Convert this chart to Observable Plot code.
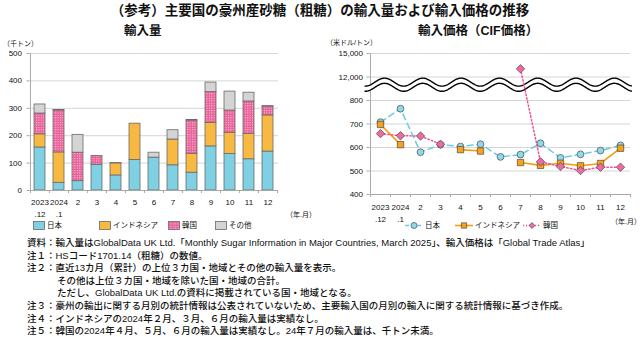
<!DOCTYPE html>
<html><head><meta charset="utf-8">
<script src="https://cdn.jsdelivr.net/npm/d3@7"></script>
<script src="https://cdn.jsdelivr.net/npm/@observablehq/plot@0.6"></script>
<style>
body{margin:0;background:#fff;font-family:'Liberation Sans','Noto Sans CJK JP',sans-serif;color:#111;}
#wrap{position:relative;width:640px;height:337px;overflow:hidden;}
.abs{position:absolute;white-space:nowrap;line-height:1;}
#title{left:0;width:640px;text-align:center;top:4px;font-size:13.5px;font-weight:bold;}
.sub{font-size:12.5px;font-weight:bold;top:25px;}
.unit{font-size:7px;}
.lg{font-size:7.5px;display:flex;align-items:center;}
.lg svg{margin-right:2px;}
#notes{left:27px;top:237px;font-size:9.5px;line-height:12.6px;font-weight:500;}
#notes div{white-space:nowrap;}
.ind{padding-left:30px;}
svg text{font-family:'Liberation Sans','Noto Sans CJK JP',sans-serif;}
</style></head>
<body><div id="wrap">
<div id="title" class="abs">（参考）主要国の豪州産砂糖（粗糖）の輸入量および輸入価格の推移</div>
<div class="abs sub" style="left:124px;">輸入量</div>
<div class="abs sub" style="left:418px;">輸入価格（CIF価格）</div>
<div class="abs unit" style="left:3px;top:40px;">（千トン）</div>
<div class="abs unit" style="left:326px;top:39px;">（米ドル/トン）</div>
<div id="left" class="abs" style="left:0;top:38px;"></div>
<div id="right" class="abs" style="left:310px;top:38px;"></div>
<div class="abs unit" style="left:286px;top:211px;">（年.月）</div>
<div class="abs unit" style="left:611px;top:218px;">（年.月）</div>
<div id="legL"></div><div id="legR"></div>
<div id="notes" class="abs">
<div>資料：輸入量はGlobalData UK Ltd.「Monthly Sugar Information in Major Countries, March 2025」、輸入価格は「Global Trade Atlas」</div>
<div>注１：HSコード1701.14（粗糖）の数値。</div>
<div>注２：直近13カ月（累計）の上位３カ国・地域とその他の輸入量を表示。</div>
<div class="ind">その他は上位３カ国・地域を除いた国・地域の合計。</div>
<div class="ind">ただし、GlobalData UK Ltd.の資料に掲載されている国・地域となる。</div>
<div>注３：豪州の輸出に関する月別の統計情報は公表されていないため、主要輸入国の月別の輸入に関する統計情報に基づき作成。</div>
<div>注４：インドネシアの2024年２月、３月、６月の輸入量は実績なし。</div>
<div>注５：韓国の2024年４月、５月、６月の輸入量は実績なし。24年７月の輸入量は、千トン未満。</div>
</div>
</div>
<script>
// ---- data ----
const months = ["2023.12","2024.1","2","3","4","5","6","7","8","9","10","11","12"];
const monthLabels = ["2023\n.12","2024\n.1","2","3","4","5","6","7","8","9","10","11","12"];
const countries = ["日本","インドネシア","韓国","その他"];
const volJapan     = [157, 28, 34, 94, 55,111,120, 92, 65,161,133,114,142];
const volIndonesia = [ 48,111,  0,  0, 44,133,  0, 94, 69, 85, 78, 93,132];
const volKorea     = [ 76,153,104, 32,  0,  0,  0,  0,121,113, 81,118, 32];
const volOther     = [ 33,  2, 65,  0,  1,  0, 18, 34,  2, 35, 69, 32,  2];
const volTicks = [0,100,200,300,400,500];

const priceCountries = ["日本","インドネシア","韓国"];
const priceJapan     = [708,765,580,612,604,614,560,570,618,556,571,587,609];
const priceIndonesia = [698,612,null,null,591,585,null,536,524,533,522,532,597];
const priceKorea     = [659,650,649,614,null,null,null,13050,539,519,502,516,516];
const priceTickValues = [400,500,600,700,800,12000,15000];
const priceTickLabels = ["400","500","600","700","800","12,000","15,000"];

// ---- styles ----
const barColors = ["#7fd0e2","#f7b941","url(#koreaDots)","#d4d4d4"];
const lineColors = ["#6ccbe0","#f39c12","#e8579a"];
const grid = "#d6d6d6", axisC = "#a8a8a8";
const font = "'Liberation Sans','Noto Sans CJK JP',sans-serif";

// ---- left chart ----
const volRows = [];
months.forEach((m,i)=>{
  [volJapan,volIndonesia,volKorea,volOther].forEach((arr,k)=>{
    if (arr[i] > 0) volRows.push({month:m, country:countries[k], value:arr[i]});
  });
});
const LW=310, LH=180, Lml=29.5, Lmr=32;
const Lstep = (LW-Lml-Lmr)/months.length;
const left = Plot.plot({
  width:LW, height:LH, marginTop:15, marginBottom:28, marginLeft:Lml, marginRight:Lmr,
  style:{fontFamily:font, background:"transparent"},
  x:{type:"band", domain:months, paddingInner:0.42, paddingOuter:0.21},
  y:{domain:[0,500]},
  color:{domain:countries, range:barColors},
  marks:[
    Plot.ruleY(volTicks.slice(1), {stroke:grid, strokeWidth:1}),
    Plot.barY(volRows, Plot.stackY({x:"month", y:"value", fill:"country", stroke:"#6a6a6a", strokeWidth:0.8, order:countries})),
    Plot.ruleY([0], {stroke:axisC}),
    Plot.ruleX([months[0]], {y1:0, y2:500, dx:-Lstep/2, stroke:axisC}),
    Plot.ruleX(months, {y1:0, y2:0, dx:-Lstep/2, insetBottom:-3, stroke:axisC}),
    Plot.ruleX([months[months.length-1]], {y1:0, y2:0, dx:Lstep/2, insetBottom:-3, stroke:axisC}),
    Plot.axisY({ticks:volTicks, tickSize:3, tickPadding:5, stroke:axisC, fontSize:8, label:null}),
    Plot.axisX({tickSize:0, tickPadding:5, fontSize:8, lineHeight:1.6, label:null,
      tickFormat:d=>monthLabels[months.indexOf(d)]})
  ]
});
const defs = document.createElementNS("http://www.w3.org/2000/svg","defs");
defs.innerHTML = '<pattern id="koreaDots" width="2.4" height="2.4" patternUnits="userSpaceOnUse"><rect width="2.4" height="2.4" fill="#ea5f98"/><rect width="1.1" height="1.1" fill="#f9c3da"/></pattern>';
left.insertBefore(defs, left.firstChild);
document.getElementById("left").appendChild(left);

// ---- right chart ----
const ty = v => v == null ? NaN : v <= 800 ? (v-400)/100 : v <= 12000 ? 4 + (v-800)/11200 : 5 + (v-12000)/3000;
const priceRows = [];
[priceJapan,priceIndonesia,priceKorea].forEach((arr,k)=>{
  months.forEach((m,i)=>priceRows.push({month:m, country:priceCountries[k], value:arr[i], py:ty(arr[i])}));
});
const RW=330, RH=185, Rml=59.5, Rmr=10;
const Rstep = (RW-Rml-Rmr)/months.length;
const byC = c => priceRows.filter(d=>d.country===c);
const waveMark = (index, scales, values, dims) => {
  const y = scales.y;
  const x0 = dims.marginLeft - 5, x1 = dims.width - dims.marginRight + 2;
  const xs = d3.range(x0, x1 + 0.5, 0.5);
  const per = 38.3, amp = 0.17, ph = dims.marginLeft + 15;
  const up = xs.map(x => [x, y(4.76 + amp*Math.cos(2*Math.PI*(x-ph)/per))]);
  const lo = xs.map(x => [x, y(4.54 + amp*Math.cos(2*Math.PI*(x-ph)/per))]);
  const g = d3.create("svg:g");
  g.append("path").attr("d", d3.line()(up.concat(lo.slice().reverse())) + "Z").attr("fill","#fff");
  g.append("path").attr("d", d3.line()(up)).attr("fill","none").attr("stroke","#000").attr("stroke-width",1.4);
  g.append("path").attr("d", d3.line()(lo)).attr("fill","none").attr("stroke","#000").attr("stroke-width",1.4);
  return g.node();
};
const right = Plot.plot({
  width:RW, height:RH, marginTop:15, marginBottom:29, marginLeft:Rml, marginRight:Rmr,
  style:{fontFamily:font, background:"transparent"},
  x:{type:"band", domain:months, padding:0},
  y:{domain:[0,6]},
  marks:[
    Plot.ruleY(priceTickValues.slice(1).map(ty), {stroke:grid}),
    Plot.ruleY([0], {stroke:axisC}),
    Plot.ruleX([months[0]], {y1:0, y2:6, dx:-Rstep/2, stroke:axisC}),
    Plot.ruleX(months, {y1:0, y2:0, dx:-Rstep/2, insetBottom:-3, stroke:axisC}),
    Plot.ruleX([months[months.length-1]], {y1:0, y2:0, dx:Rstep/2, insetBottom:-3, stroke:axisC}),
    Plot.axisY({ticks:priceTickValues.map(ty), tickSize:3, tickPadding:4, stroke:axisC, fontSize:8, label:null,
      tickFormat:d=>priceTickLabels[priceTickValues.map(ty).indexOf(d)]}),
    Plot.axisX({tickSize:0, tickPadding:6, fontSize:8, lineHeight:1.6, label:null,
      tickFormat:d=>monthLabels[months.indexOf(d)]}),
    waveMark,
    Plot.line(byC("日本"), {x:"month", y:"py", stroke:lineColors[0], strokeWidth:1.5, strokeDasharray:"6,4"}),
    Plot.line(byC("インドネシア"), {x:"month", y:"py", stroke:lineColors[1], strokeWidth:1.6}),
    Plot.line(byC("韓国"), {x:"month", y:"py", stroke:lineColors[2], strokeWidth:1.5, strokeDasharray:"1.5,2.2"}),
    Plot.dot(byC("日本").filter(d=>!isNaN(d.py)), {x:"month", y:"py", r:3.4, symbol:"circle", fill:"#8fd9ea", stroke:"#4a4a4a", strokeWidth:0.7}),
    Plot.dot(byC("インドネシア").filter(d=>!isNaN(d.py)), {x:"month", y:"py", r:3.6, symbol:"square", fill:"#f7a21b", stroke:"#4a4a4a", strokeWidth:0.7}),
    Plot.dot(byC("韓国").filter(d=>!isNaN(d.py)), {x:"month", y:"py", r:3.8, symbol:"diamond2", fill:"#ee6aa2", stroke:"#4a4a4a", strokeWidth:0.7})
  ]
});
document.getElementById("right").appendChild(right);

// ---- legends ----
const legL = d3.select("#legL");
const lgLx = [33, 99, 168, 215];
countries.forEach((c,k)=>{
  const item = legL.append("div").attr("class","abs lg").style("left",lgLx[k]+"px").style("top","221px");
  const s = item.append("svg").attr("width",12).attr("height",9);
  s.append("defs").html(k===2 ? '<pattern id="kd2" width="2.4" height="2.4" patternUnits="userSpaceOnUse"><rect width="2.4" height="2.4" fill="#ea5f98"/><rect width="1.1" height="1.1" fill="#f9c3da"/></pattern>' : "");
  s.append("rect").attr("x",0.5).attr("y",0.5).attr("width",11).attr("height",8)
    .attr("fill", k===2 ? "url(#kd2)" : barColors[k]).attr("stroke","#6a6a6a").attr("stroke-width",0.8);
  item.append("span").text(c);
});
const legR = d3.select("#legR");
const lgRx = [405, 455, 523];
const syms = [d3.symbolCircle, d3.symbolSquare, d3.symbolDiamond2];
const dotFills = ["#8fd9ea","#f7a21b","#ee6aa2"];
const dashes = ["4,2", null, "1.2,1.8"];
priceCountries.forEach((c,k)=>{
  const item = legR.append("div").attr("class","abs lg").style("left",lgRx[k]+"px").style("top","221px");
  const s = item.append("svg").attr("width",18).attr("height",9);
  s.append("line").attr("x1",0).attr("x2",18).attr("y1",4.5).attr("y2",4.5).attr("stroke",lineColors[k]).attr("stroke-width",1.6).attr("stroke-dasharray",dashes[k]);
  s.append("path").attr("transform","translate(9,4.5)").attr("d", d3.symbol(syms[k], k===2?22:28)()).attr("fill",dotFills[k]).attr("stroke","#4a4a4a").attr("stroke-width",0.7);
  item.append("span").text(c);
});
</script>
</body></html>
